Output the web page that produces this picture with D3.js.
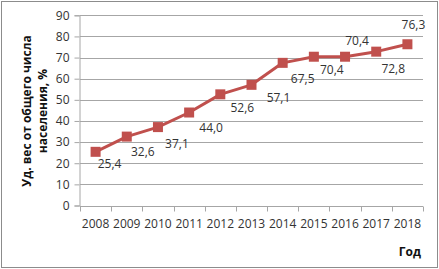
<!DOCTYPE html>
<html>
<head>
<meta charset="utf-8">
<script src="https://cdn.jsdelivr.net/npm/d3@7"></script>
<style>
  body { margin: 0; background: #fff; }
  svg { display: block; font-family: "Open Sans", sans-serif; }
</style>
</head>
<body>
<div id="chart"></div>
<script>
const years = ["2008", "2009", "2010", "2011", "2012", "2013", "2014", "2015", "2016", "2017", "2018"];
const shares = [25.4, 32.6, 37.1, 44.0, 52.6, 57.1, 67.5, 70.4, 70.4, 72.8, 76.3];
const yTicks = [0, 10, 20, 30, 40, 50, 60, 70, 80, 90];

// where each data label sits relative to its marker
const labelOffsets = [[14, 16], [16, 19], [19, 21], [22, 19], [22, 18], [27, 17],
                      [20, 20], [18, 17], [12, -12], [17, 21], [6, -15]];

const width = 439, height = 269;
const plot = { left: 80, right: 423, top: 15.3, bottom: 205.5 };
const red = "#c0504d";

const svg = d3.select("#chart").append("svg")
    .attr("width", width)
    .attr("height", height);

// outer frame
svg.append("rect")
    .attr("x", 1.5).attr("y", 1.5)
    .attr("width", width - 3).attr("height", height - 3)
    .attr("fill", "#fff")
    .attr("stroke", "#8c8c8c");

const x = d3.scaleBand().domain(years).range([plot.left, plot.right]);
const y = d3.scaleLinear().domain([0, 90]).range([plot.bottom, plot.top]);

// gridlines
svg.append("g")
    .selectAll("line")
    .data(yTicks.slice(1))
    .enter().append("line")
    .attr("x1", plot.left).attr("x2", plot.right)
    .attr("y1", d => Math.round(y(d)) + 0.5)
    .attr("y2", d => Math.round(y(d)) + 0.5)
    .attr("stroke", "#a6a6a6");

// y axis
const yAxis = svg.append("g")
    .attr("transform", "translate(" + (plot.left - 0.5) + ",0)")
    .call(d3.axisLeft(y).tickValues(yTicks).tickSize(5).tickPadding(5));
yAxis.select(".domain").attr("stroke", "#a6a6a6");
yAxis.selectAll(".tick line").attr("stroke", "#a6a6a6");
yAxis.selectAll(".tick text")
    .attr("font-family", "Open Sans, sans-serif")
    .attr("font-size", 12)
    .attr("fill", "#333");

// x axis: ticks on band edges
const xAxis = svg.append("g")
    .attr("transform", "translate(0," + (Math.round(plot.bottom) + 0.5) + ")");
xAxis.append("line")
    .attr("x1", plot.left).attr("x2", plot.right)
    .attr("stroke", "#a6a6a6");
xAxis.selectAll("line.edge")
    .data(years.concat(["end"]))
    .enter().append("line")
    .attr("class", "edge")
    .attr("x1", (d, i) => Math.round(plot.left + i * x.step()) + 0.5)
    .attr("x2", (d, i) => Math.round(plot.left + i * x.step()) + 0.5)
    .attr("y1", 0).attr("y2", 5)
    .attr("stroke", "#a6a6a6");
xAxis.selectAll("text")
    .data(years)
    .enter().append("text")
    .attr("x", d => x(d) + x.bandwidth() / 2)
    .attr("y", 21.5)
    .attr("text-anchor", "middle")
    .attr("font-size", 12)
    .attr("fill", "#333")
    .text(d => d);

// axis titles
svg.append("text")
    .attr("transform", "translate(31,111) rotate(-90)")
    .attr("text-anchor", "middle")
    .attr("font-size", 12)
    .attr("font-weight", "bold")
    .attr("fill", "#111")
    .text("Уд. вес от общего числа");
svg.append("text")
    .attr("transform", "translate(47,111) rotate(-90)")
    .attr("text-anchor", "middle")
    .attr("font-size", 12)
    .attr("font-weight", "bold")
    .attr("fill", "#111")
    .text("населения, %");
svg.append("text")
    .attr("x", 421).attr("y", 256)
    .attr("text-anchor", "end")
    .attr("font-size", 12)
    .attr("font-weight", "bold")
    .attr("fill", "#111")
    .text("Год");

// series
const cx = (d, i) => x(years[i]) + x.bandwidth() / 2;
const line = d3.line()
    .x(cx)
    .y(d => y(d));

svg.append("path")
    .datum(shares)
    .attr("d", line)
    .attr("fill", "none")
    .attr("stroke", red)
    .attr("stroke-width", 3)
    .attr("stroke-linejoin", "round");

svg.selectAll("rect.marker")
    .data(shares)
    .enter().append("rect")
    .attr("class", "marker")
    .attr("x", (d, i) => cx(d, i) - 5)
    .attr("y", d => y(d) - 5)
    .attr("width", 10)
    .attr("height", 10)
    .attr("fill", red);

svg.selectAll("text.label")
    .data(shares)
    .enter().append("text")
    .attr("class", "label")
    .attr("x", (d, i) => cx(d, i) + labelOffsets[i][0])
    .attr("y", (d, i) => y(d) + labelOffsets[i][1])
    .attr("text-anchor", "middle")
    .attr("font-size", 12)
    .attr("fill", "#333")
    .text(d => d.toFixed(1).replace(".", ","));
</script>
</body>
</html>
